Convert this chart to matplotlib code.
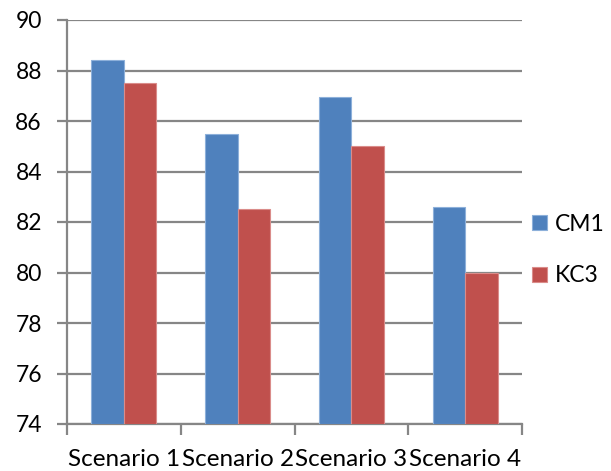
import matplotlib
matplotlib.use("Agg")
import matplotlib.pyplot as plt
import numpy as np

# scores per scenario for the two models
scenarios = ["Scenario 1", "Scenario 2", "Scenario 3", "Scenario 4"]
cm1 = [88.4, 85.5, 86.95, 82.6]
kc3 = [87.5, 82.5, 85.0, 80.0]
series_names = ["CM1", "KC3"]
series_colors = ["#4F81BD", "#C0504D"]
edge_colors = ["#8DB0DA", "#DA8C8A"]
yticks = [74, 76, 78, 80, 82, 84, 86, 88, 90]

plt.rcParams['font.family'] = ['Lato', 'DejaVu Sans']
W, H = 611, 471
fig = plt.figure(figsize=(W / 100, H / 100), dpi=100)
ax = fig.add_axes([67 / W, 1 - 424 / H, (522 - 67) / W, (424 - 20) / H])

x = np.arange(len(scenarios))
bw = 0.285
grid_c = "#868686"

for k, vals in enumerate([cm1, kc3]):
    off = (k - 0.5) * bw
    ax.bar(x + off, np.array(vals) - yticks[0], bw, bottom=yticks[0],
           color=series_colors[k], edgecolor=edge_colors[k], linewidth=0.8,
           label=series_names[k], zorder=3)

ax.set_xlim(-0.5, len(scenarios) - 0.5)
ax.set_ylim(yticks[0], yticks[-1])
ax.set_yticks(yticks)
ax.yaxis.grid(True, color=grid_c, linewidth=1.6, zorder=0)

# boundary ticks on the category axis, labels centred under each group
ax.set_xticks(np.arange(-0.5, len(scenarios)), minor=False)
ax.set_xticklabels([])
ax.set_xticks(x, minor=True)
ax.set_xticklabels(scenarios, minor=True, fontsize=17.5)
ax.tick_params(axis='x', which='major', direction='out', length=8,
               width=1.6, color=grid_c)
ax.tick_params(axis='x', which='minor', length=0, pad=18)
ax.tick_params(axis='y', direction='out', length=7, width=1.6, color=grid_c,
               labelsize=16.5, pad=11)

for s in ['top', 'right']:
    ax.spines[s].set_visible(False)
ax.spines['left'].set_color(grid_c)
ax.spines['left'].set_linewidth(1.6)
ax.spines['bottom'].set_color(grid_c)
ax.spines['bottom'].set_linewidth(1.6)

fig.legend(loc='center left', bbox_to_anchor=(532 / W, 1 - 250 / H),
           frameon=False, fontsize=16.5, handlelength=0.65, handleheight=0.65,
           handletextpad=0.35, labelspacing=1.35, borderpad=0,
           borderaxespad=0)

fig.savefig("out.png", dpi=100)
